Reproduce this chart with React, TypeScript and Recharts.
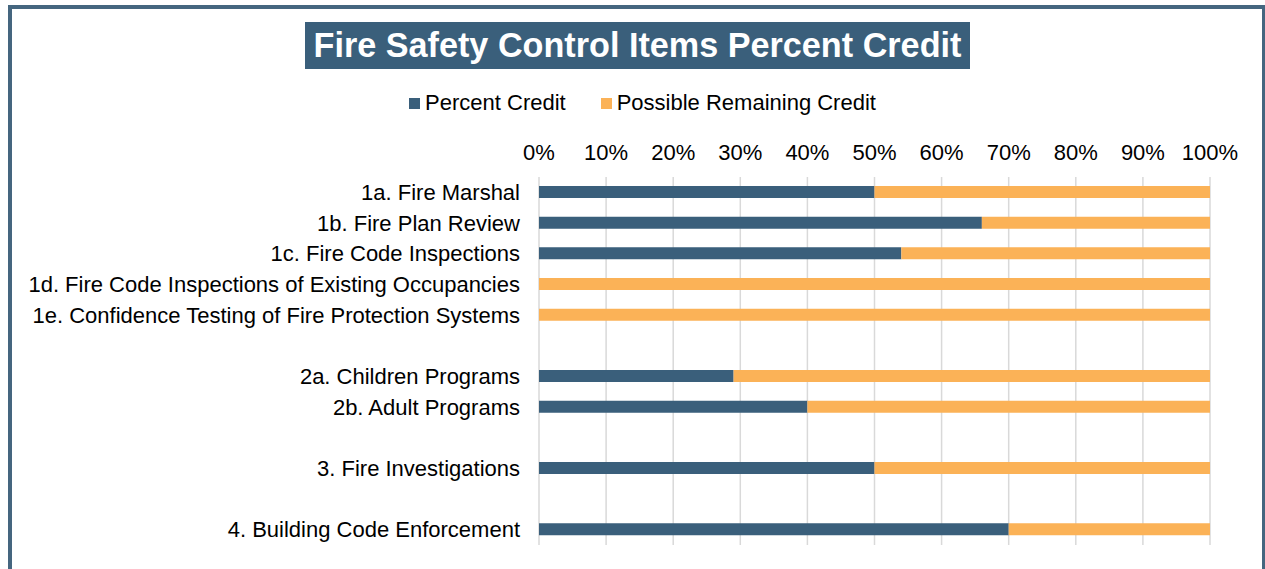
import { Bar, BarChart, XAxis, YAxis, CartesianGrid, Legend } from "recharts"

const categories = [
  "1a. Fire Marshal",
  "1b. Fire Plan Review",
  "1c. Fire Code Inspections",
  "1d. Fire Code Inspections of Existing Occupancies",
  "1e. Confidence Testing of Fire Protection Systems",
  " ",
  "2a. Children Programs",
  "2b. Adult Programs",
  "  ",
  "3. Fire Investigations",
  "   ",
  "4. Building Code Enforcement",
]

const percentCredit = [50, 66, 54, 0, 0, null, 29, 40, null, 50, null, 70]
const remainingCredit = [50, 34, 46, 100, 100, null, 71, 60, null, 50, null, 30]

const xTicks = [0, 10, 20, 30, 40, 50, 60, 70, 80, 90, 100]

const DARK = "#3a5f7b"
const ORANGE = "#fbb257"
const BORDER = "#45667f"

const data = categories.map((name, i) => ({
  name,
  credit: percentCredit[i],
  remaining: remainingCredit[i],
}))

function LegendBox({ payload }: any) {
  return (
    <div style={{ display: "flex", justifyContent: "center", alignItems: "center", gap: 35, fontSize: 22, color: "#000" }}>
      {(payload || []).map((p: any) => (
        <div key={p.value} style={{ display: "flex", alignItems: "center", gap: 5 }}>
          <span style={{ display: "inline-block", width: 11, height: 11, background: p.color }} />
          <span>{p.value}</span>
        </div>
      ))}
    </div>
  )
}

export default function App() {
  return (
    <div style={{ position: "absolute", left: 0, top: 0, width: 1265, height: 569, overflow: "hidden", background: "#fff", fontFamily: "'Liberation Sans', Arial, sans-serif" }}>
      <div
        style={{
          position: "absolute",
          left: 8,
          top: 5,
          width: 1250,
          height: 600,
          borderLeft: `4px solid ${BORDER}`,
          borderTop: `4px solid ${BORDER}`,
          borderRight: `3px solid ${BORDER}`,
        }}
      />
      <div
        style={{
          position: "absolute",
          left: 305,
          top: 22,
          width: 665,
          height: 47,
          background: DARK,
          color: "#fff",
          fontWeight: "bold",
          fontSize: 34.2,
          lineHeight: "47px",
          textAlign: "center",
        }}
      >
        Fire Safety Control Items Percent Credit
      </div>
      <div style={{ position: "absolute", left: 0, top: 0 }}>
        <BarChart
          width={1265}
          height={569}
          data={data}
          layout="vertical"
          barSize={12}
          margin={{ top: 115, right: 55, left: 0, bottom: 24 }}
        >
          <CartesianGrid horizontal={false} stroke="#d9d9d9" strokeWidth={1.5} />
          <XAxis
            type="number"
            orientation="top"
            domain={[0, 100]}
            ticks={xTicks}
            tickFormatter={(v) => `${v}%`}
            axisLine={false}
            tickLine={false}
            tick={{ fill: "#000", fontSize: 22 }}
            height={36}
            tickMargin={11}
            interval={0}
          />
          <YAxis
            type="category"
            dataKey="name"
            width={539}
            axisLine={false}
            tickLine={false}
            tick={{ fill: "#000", fontSize: 22 }}
            tickMargin={13}
            interval={0}
          />
          <Legend
            verticalAlign="top"
            content={<LegendBox />}
            wrapperStyle={{ top: 90, left: 10, width: 1265 }}
          />
          <Bar dataKey="credit" name="Percent Credit" stackId="a" fill={DARK} isAnimationActive={false} />
          <Bar dataKey="remaining" name="Possible Remaining Credit" stackId="a" fill={ORANGE} isAnimationActive={false} />
        </BarChart>
      </div>
    </div>
  )
}
